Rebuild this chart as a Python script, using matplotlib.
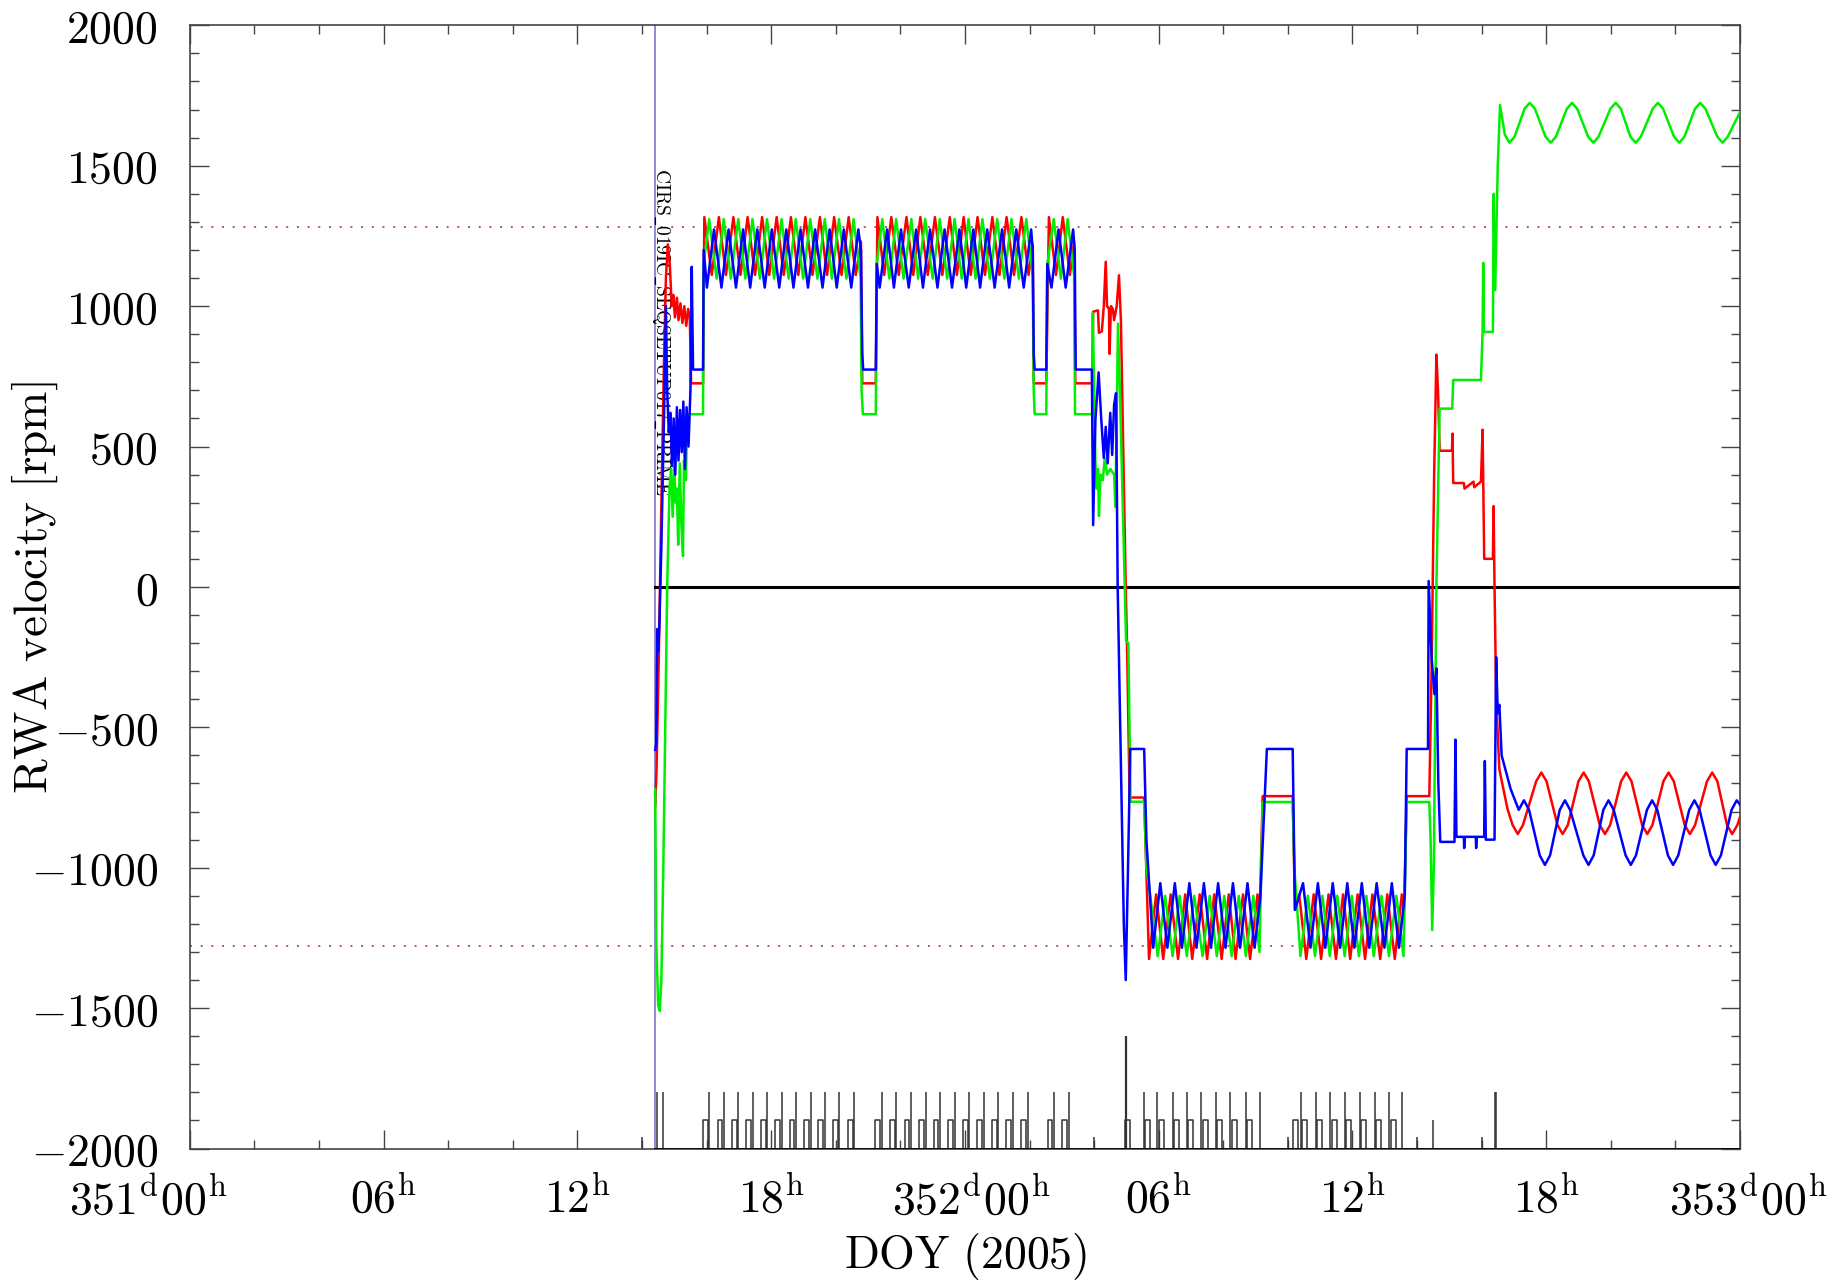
import numpy as np
import matplotlib.pyplot as plt
from matplotlib.ticker import MultipleLocator

plt.rcParams['mathtext.fontset'] = 'cm'
plt.rcParams['lines.scale_dashes'] = False

# time in hours since 351d00h (DOY 2005), wheel speeds in rpm
red = [
    (14.41, -780), (14.45, -650), (14.52, -250), (14.60, 300), (14.68, 800), (14.74, 1100),
    (14.80, 1220), (14.86, 1150), (14.92, 1000), (14.97, 1040), (15.02, 960), (15.08, 1030),
    (15.13, 950), (15.19, 1010), (15.25, 940), (15.31, 1000), (15.37, 930), (15.43, 990),
    (15.48, 960), (15.52, 725), (15.89, 725),
    (15.93, 1317), (16.16, 1111), (16.38, 1317), (16.60, 1111), (16.83, 1317), (17.05, 1111),
    (17.27, 1317), (17.50, 1111), (17.72, 1317), (17.94, 1111), (18.17, 1317), (18.39, 1111),
    (18.61, 1317), (18.84, 1111), (19.06, 1317), (19.28, 1111), (19.51, 1317), (19.73, 1111),
    (19.95, 1317), (20.18, 1111), (20.40, 1317), (20.62, 1111), (20.78, 1230),
    (20.82, 725), (21.24, 725),
    (21.29, 1317), (21.50, 1111), (21.72, 1317), (21.95, 1111), (22.19, 1317), (22.40, 1111),
    (22.62, 1317), (22.85, 1111), (23.07, 1317), (23.30, 1111), (23.53, 1317), (23.75, 1111),
    (23.96, 1317), (24.18, 1111), (24.39, 1317), (24.62, 1111), (24.85, 1317), (25.07, 1111),
    (25.29, 1317), (25.52, 1111), (25.75, 1317), (25.97, 1111), (26.10, 1220),
    (26.13, 725), (26.52, 725),
    (26.60, 1317), (26.82, 1111), (27.03, 1317), (27.25, 1111), (27.38, 1230),
    (27.42, 725), (27.94, 725),
    (27.97, 980), (28.12, 985), (28.15, 905), (28.24, 910), (28.30, 1000), (28.36, 1158),
    (28.40, 1000), (28.46, 990), (28.48, 830), (28.52, 1000), (28.58, 990), (28.62, 950),
    (28.70, 1000), (28.77, 1110), (28.83, 950), (28.98, 0), (29.02, -210), (29.10, -750),
    (29.55, -750),
    (29.70, -1325), (29.92, -1095), (30.14, -1325), (30.37, -1095), (30.60, -1325), (30.82, -1095),
    (31.04, -1325), (31.27, -1095), (31.50, -1325), (31.72, -1095), (31.95, -1325), (32.17, -1095),
    (32.38, -1325), (32.61, -1095), (32.83, -1325), (33.06, -1095), (33.12, -1200),
    (33.22, -745), (34.15, -745),
    (34.22, -1150), (34.35, -1095), (34.57, -1325), (34.80, -1095), (35.03, -1325), (35.26, -1095),
    (35.49, -1325), (35.71, -1095), (35.93, -1325), (36.16, -1095), (36.39, -1325), (36.62, -1095),
    (36.86, -1325), (37.08, -1095), (37.31, -1325), (37.53, -1095), (37.60, -1150),
    (37.68, -745), (38.38, -745),
    (38.45, -300), (38.53, 400), (38.60, 827), (38.65, 700), (38.70, 485), (39.08, 485),
    (39.10, 546), (39.12, 370), (39.45, 370), (39.47, 350), (39.75, 375), (39.77, 355),
    (39.98, 375), (40.03, 560), (40.08, 100), (40.35, 100), (40.37, 288), (40.40, 0),
    (40.45, -400), (40.55, -650),
    (40.80, -790), (40.96, -848), (41.12, -880), (41.28, -848), (41.69, -692), (41.85, -661),
    (42.01, -692), (42.35, -848), (42.51, -880), (42.67, -848), (43.00, -692), (43.16, -661),
    (43.32, -692), (43.66, -848), (43.82, -880), (43.98, -848), (44.32, -692), (44.48, -661),
    (44.64, -692), (44.97, -848), (45.13, -880), (45.29, -848), (45.63, -692), (45.79, -661),
    (45.95, -692), (46.29, -848), (46.45, -880), (46.61, -848), (46.98, -692), (47.14, -661),
    (47.30, -692), (47.60, -848), (47.76, -880), (47.92, -848), (48.00, -820),
]

green = [
    (14.41, -720), (14.44, -1250), (14.50, -1490), (14.55, -1510), (14.60, -1400), (14.66, -1000),
    (14.72, -500), (14.78, 0), (14.85, 350), (14.90, 420), (14.95, 250), (15.00, 430),
    (15.04, 300), (15.08, 350), (15.12, 150), (15.17, 440), (15.22, 220), (15.27, 110),
    (15.30, 450), (15.36, 380), (15.40, 615), (15.89, 615),
    (15.91, 1150), (16.08, 1310), (16.31, 1098), (16.53, 1310), (16.75, 1098), (16.98, 1310),
    (17.20, 1098), (17.42, 1310), (17.65, 1098), (17.87, 1310), (18.09, 1098), (18.32, 1310),
    (18.54, 1098), (18.76, 1310), (18.99, 1098), (19.21, 1310), (19.43, 1098), (19.66, 1310),
    (19.88, 1098), (20.10, 1310), (20.33, 1098), (20.55, 1310), (20.77, 1098),
    (20.80, 700), (20.84, 615), (21.24, 615),
    (21.27, 1150), (21.44, 1310), (21.66, 1098), (21.87, 1310), (22.10, 1098), (22.34, 1310),
    (22.55, 1098), (22.77, 1310), (23.00, 1098), (23.22, 1310), (23.45, 1098), (23.68, 1310),
    (23.90, 1098), (24.11, 1310), (24.33, 1098), (24.54, 1310), (24.77, 1098), (25.00, 1310),
    (25.22, 1098), (25.44, 1310), (25.67, 1098), (25.90, 1310), (26.10, 1110),
    (26.13, 700), (26.16, 615), (26.52, 615),
    (26.55, 1150), (26.75, 1310), (26.97, 1098), (27.18, 1310), (27.38, 1110),
    (27.41, 615), (27.94, 615),
    (27.96, 975), (28.04, 443), (28.08, 350), (28.12, 420), (28.15, 253), (28.20, 400),
    (28.27, 380), (28.33, 460), (28.40, 400), (28.50, 420), (28.62, 400), (28.66, 285),
    (28.70, 600), (28.74, 937), (28.80, 700), (28.99, -192), (29.06, -200), (29.13, -765),
    (29.55, -765),
    (29.62, -1000), (29.74, -1100), (29.97, -1315), (30.20, -1100), (30.43, -1315), (30.65, -1100),
    (30.87, -1315), (31.10, -1100), (31.36, -1315), (31.58, -1100), (31.80, -1315), (32.03, -1100),
    (32.26, -1315), (32.48, -1100), (32.70, -1315), (32.93, -1100), (33.12, -1300),
    (33.22, -766), (34.15, -766),
    (34.20, -1000), (34.39, -1315), (34.62, -1100), (34.84, -1315), (35.07, -1100), (35.30, -1315),
    (35.53, -1100), (35.76, -1315), (35.98, -1100), (36.20, -1315), (36.43, -1100), (36.66, -1315),
    (36.90, -1100), (37.13, -1315), (37.36, -1100), (37.58, -1315),
    (37.68, -766), (38.38, -766),
    (38.42, -900), (38.47, -1222), (38.52, -1000), (38.60, 0), (38.70, 635), (39.09, 635),
    (39.12, 737), (39.98, 737), (40.03, 908), (40.05, 1154), (40.07, 908), (40.35, 908),
    (40.37, 1400), (40.42, 1057), (40.50, 1500), (40.57, 1716),
    (40.72, 1610), (40.86, 1582), (41.02, 1603), (41.33, 1703), (41.49, 1724), (41.65, 1703),
    (41.98, 1603), (42.14, 1582), (42.30, 1603), (42.64, 1703), (42.80, 1724), (42.96, 1703),
    (43.30, 1603), (43.46, 1582), (43.62, 1603), (43.99, 1703), (44.15, 1724), (44.31, 1703),
    (44.61, 1603), (44.77, 1582), (44.93, 1603), (45.30, 1703), (45.46, 1724), (45.62, 1703),
    (45.96, 1603), (46.12, 1582), (46.28, 1603), (46.61, 1703), (46.77, 1724), (46.93, 1703),
    (47.30, 1603), (47.46, 1582), (47.62, 1603), (48.00, 1690),
]

blue = [
    (14.41, -580), (14.44, -560), (14.47, -150), (14.50, -230), (14.54, -130), (14.60, 150),
    (14.68, 600), (14.74, 1000), (14.78, 700), (14.83, 550), (14.88, 620), (14.93, 430),
    (14.98, 600), (15.03, 400), (15.08, 640), (15.13, 450), (15.18, 630), (15.23, 480),
    (15.28, 660), (15.33, 420), (15.38, 640), (15.44, 500), (15.50, 700), (15.54, 1140),
    (15.58, 774), (15.89, 774),
    (15.91, 1200), (16.01, 1066), (16.23, 1273), (16.46, 1066), (16.68, 1273), (16.91, 1066),
    (17.13, 1273), (17.35, 1066), (17.57, 1273), (17.80, 1066), (18.02, 1273), (18.25, 1066),
    (18.47, 1273), (18.69, 1066), (18.91, 1273), (19.14, 1066), (19.36, 1273), (19.59, 1066),
    (19.81, 1273), (20.03, 1066), (20.25, 1273), (20.48, 1066), (20.70, 1273), (20.78, 1200),
    (20.82, 830), (20.85, 774), (21.24, 774),
    (21.27, 1150), (21.36, 1066), (21.59, 1273), (21.80, 1066), (22.02, 1273), (22.26, 1066),
    (22.49, 1273), (22.70, 1066), (22.92, 1273), (23.15, 1066), (23.37, 1273), (23.60, 1066),
    (23.83, 1273), (24.04, 1066), (24.26, 1273), (24.47, 1066), (24.69, 1273), (24.92, 1066),
    (25.15, 1273), (25.37, 1066), (25.59, 1273), (25.82, 1066), (26.05, 1273), (26.10, 1200),
    (26.13, 830), (26.16, 774), (26.52, 774),
    (26.55, 1150), (26.68, 1066), (26.90, 1273), (27.12, 1066), (27.35, 1273), (27.40, 1200),
    (27.43, 774), (27.93, 774),
    (27.97, 220), (28.04, 595), (28.14, 764), (28.22, 600), (28.30, 460), (28.36, 570),
    (28.42, 440), (28.50, 620), (28.56, 470), (28.62, 650), (28.68, 690), (28.73, 0),
    (28.92, -1200), (28.98, -1400), (29.05, -1000), (29.12, -577), (29.55, -577),
    (29.62, -900), (29.83, -1285), (30.05, -1055), (30.27, -1285), (30.50, -1055), (30.72, -1285),
    (30.95, -1055), (31.17, -1285), (31.40, -1055), (31.62, -1285), (31.84, -1055), (32.07, -1285),
    (32.30, -1055), (32.52, -1285), (32.75, -1055), (32.97, -1285), (33.15, -1100),
    (33.35, -577), (34.15, -577),
    (34.22, -1150), (34.47, -1055), (34.70, -1285), (34.93, -1055), (35.16, -1285), (35.39, -1055),
    (35.62, -1285), (35.84, -1055), (36.06, -1285), (36.29, -1055), (36.52, -1285), (36.75, -1055),
    (36.99, -1285), (37.22, -1055), (37.44, -1285), (37.62, -1100),
    (37.68, -577), (38.34, -577),
    (38.36, 21), (38.45, -250), (38.54, -382), (38.60, -290), (38.66, -700), (38.72, -908),
    (39.16, -908), (39.19, -544), (39.22, -890), (39.45, -890), (39.46, -930), (39.48, -890),
    (39.82, -890), (39.83, -930), (39.85, -890), (40.08, -890), (40.10, -620), (40.13, -900),
    (40.40, -900), (40.45, -250), (40.50, -450), (40.55, -420), (40.62, -600),
    (40.90, -720), (41.15, -794), (41.31, -760), (41.47, -794), (41.80, -956), (41.96, -990),
    (42.12, -956), (42.42, -794), (42.58, -760), (42.74, -794), (43.15, -956), (43.31, -990),
    (43.47, -956), (43.77, -794), (43.93, -760), (44.09, -794), (44.46, -956), (44.62, -990),
    (44.78, -956), (45.12, -794), (45.28, -760), (45.44, -794), (45.77, -956), (45.93, -990),
    (46.09, -956), (46.43, -794), (46.59, -760), (46.75, -794), (47.09, -956), (47.25, -990),
    (47.41, -956), (47.74, -794), (47.90, -760), (48.00, -775),
]

zero_t = [14.41, 48.0]
zero_v = [0, 0]
limit_rpm = 1280
seq_start = 14.41
seq_name = r'$\mathrm{CIRS\_019IC\_SEQSETUP017\_PRIME}$'

# command markers along the bottom
cmd_tall = [14.46, 14.65,
            16.09, 16.54, 16.98, 17.43, 17.88, 18.32, 18.77, 19.22, 19.66, 20.11, 20.58,
            21.43, 21.88, 22.33, 22.78, 23.23, 23.68, 24.13, 24.58, 25.03, 25.48, 25.94,
            26.76, 27.21,
            29.53, 29.96, 30.43, 30.87, 31.32, 31.77, 32.21, 32.69, 33.13,
            34.40, 34.86, 35.32, 35.76, 36.22, 36.69, 37.14, 37.55,
            40.40, 40.44]
cmd_box = [15.89, 16.34, 16.78, 17.23, 17.68, 18.12, 18.57, 19.02, 19.46, 19.91, 20.38,
           21.23, 21.68, 22.13, 22.58, 23.03, 23.48, 23.93, 24.38, 24.83, 25.28, 25.73,
           26.56, 27.01, 28.96,
           29.58, 30.01, 30.48, 30.92, 31.37, 31.82, 32.26, 32.74,
           34.17, 34.45, 34.91, 35.37, 35.81, 36.27, 36.74, 37.19]
cmd_single = [38.50]
cmd_small = [13.99, 27.99, 34.00, 38.00, 40.00]
cmd_big = [29.00]
box_len = 0.15

# x tick positions (h) and where each label is centred
xt = [0, 6, 12, 18, 24, 30, 36, 42, 48]
xt_text = [r'$351^{\mathrm{d}}00^{\mathrm{h}}$', r'$06^{\mathrm{h}}$', r'$12^{\mathrm{h}}$',
           r'$18^{\mathrm{h}}$', r'$352^{\mathrm{d}}00^{\mathrm{h}}$', r'$06^{\mathrm{h}}$',
           r'$12^{\mathrm{h}}$', r'$18^{\mathrm{h}}$', r'$353^{\mathrm{d}}00^{\mathrm{h}}$']
xt_pos = [-1.3, 6, 12, 18, 24.2, 30, 36, 42, 48.25]

fs = 33

fig = plt.figure(figsize=(18.42, 12.85), dpi=100)
ax = fig.add_axes([0.1031, 0.1062, 0.8415, 0.8741])

ax.axvline(seq_start, color='#7878cc', lw=1.2, zorder=1)
ax.text(seq_start + 0.03, 1492, seq_name, rotation=-90, rotation_mode='anchor',
        ha='left', va='baseline', fontsize=14, color='black')

for lv in (limit_rpm, -limit_rpm):
    ax.axhline(lv, color='#b05a5a', lw=1.4, ls=(0, (1.4, 6.3)), zorder=1)

ax.plot(zero_t, zero_v, color='black', lw=2.2, zorder=2)

imp = '#333333'
ax.vlines(cmd_tall, -2000, -1800, color=imp, lw=1.1)
ax.vlines(cmd_single, -2000, -1900, color=imp, lw=1.1)
ax.vlines(cmd_small, -2000, -1960, color=imp, lw=1.1)
ax.vlines(cmd_big, -2000, -1600, color=imp, lw=1.6)
for s in cmd_box:
    ax.plot([s, s, s + box_len, s + box_len], [-2000, -1900, -1900, -2000], color=imp, lw=1.1)
ax.plot([seq_start, 48], [-2000, -2000], color='black', lw=2.0, zorder=3)

for data, col in ((red, '#ff0000'), (green, '#00ee00'), (blue, '#0000ff')):
    t, v = np.array(data).T
    ax.plot(t, v, color=col, lw=1.8, zorder=4)

ax.set_xlim(0, 48)
ax.set_ylim(-2000, 2000)
ax.set_xticks(xt)
ax.xaxis.set_minor_locator(MultipleLocator(2))
ax.yaxis.set_minor_locator(MultipleLocator(100))
ax.tick_params(which='both', direction='in', top=True, right=True, color='#444444', width=1.0)
ax.tick_params(which='major', length=13.5)
ax.tick_params(which='minor', length=6.7)
ax.tick_params(axis='y', labelsize=fs, pad=23)
ax.set_xticklabels([])
yt = np.arange(-2000, 2001, 500)
ax.set_yticks(yt)
ax.set_yticklabels([r'$%d$' % v for v in yt])
for sp in ax.spines.values():
    sp.set_color('#444444')
    sp.set_linewidth(1.2)

xtr = ax.get_xaxis_transform()
for pos, lab in zip(xt_pos, xt_text):
    ax.text(pos, -0.026, lab, transform=xtr, ha='center', va='top', fontsize=fs)

fig.text(0.524, 0.022, r'$\mathrm{DOY\ (2005)}$', ha='center', va='center', fontsize=fs)
fig.text(0.019, 0.543, r'$\mathrm{RWA\ velocity\ [rpm]}$', ha='center', va='center',
         rotation=90, fontsize=fs + 1)

fig.savefig('out.png', dpi=100)
